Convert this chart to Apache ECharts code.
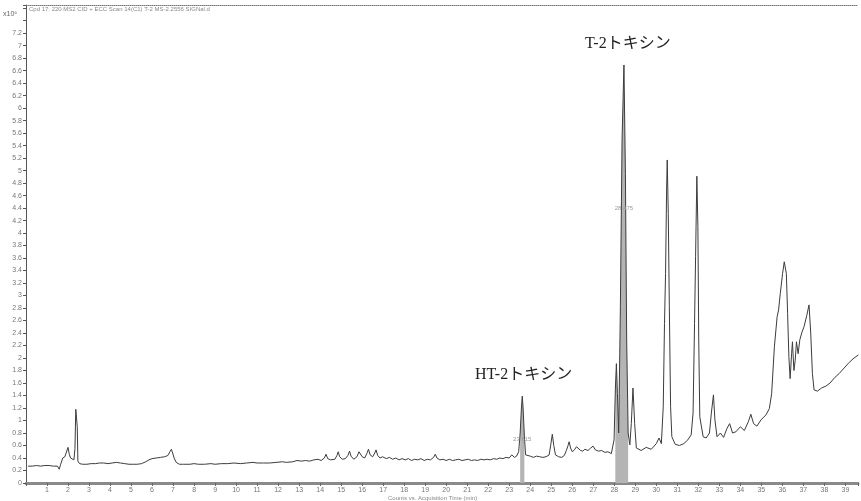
<!DOCTYPE html>
<html><head><meta charset="utf-8">
<script src="https://cdn.jsdelivr.net/npm/echarts@6/dist/echarts.min.js"></script>
<style>html,body{margin:0;padding:0;background:#fff}#c{width:861px;height:501px}</style>
</head><body><div id="c"></div>
<script>
// Acquisition time (min)
const times = [
 0.1,0.3,0.5,0.7,0.9,1.1,1.3,1.5,1.58,1.65,1.75,1.85,1.92,2.0,2.06,2.12,2.2,2.28,2.33,2.37,2.41,2.44,2.47,2.55,2.7,2.9,
 3.1,3.3,3.5,3.7,3.9,4.1,4.3,4.5,4.7,4.9,5.1,5.3,5.5,5.7,5.85,6.0,6.2,6.4,6.6,6.75,6.85,6.92,6.98,7.05,7.15,7.3,7.5,7.8,
 8.0,8.2,8.5,8.8,9.0,9.3,9.6,9.9,10.2,10.5,10.8,11.0,11.3,11.6,11.9,12.2,12.4,12.7,12.9,13.1,
 13.3,13.5,13.7,13.9,14.05,14.2,14.28,14.36,14.5,14.7,14.8,14.86,14.93,15.05,15.2,15.32,15.4,15.47,15.6,15.75,15.85,15.92,
 16.0,16.12,16.22,16.3,16.38,16.5,16.6,16.66,16.74,16.85,16.97,17.05,17.15,17.3,17.45,17.6,17.75,17.9,18.05,18.2,18.35,
 18.5,18.65,18.8,18.95,19.1,19.25,19.4,19.48,19.56,19.7,19.85,20.0,20.15,20.3,20.45,20.6,20.75,20.9,21.05,21.2,21.35,
 21.5,21.65,21.8,21.95,22.1,22.25,22.4,22.55,22.7,22.85,23.0,23.12,23.25,23.35,23.45,23.52,23.58,23.62,23.66,23.72,23.78,
 23.85,24.0,24.15,24.3,24.45,24.6,24.75,24.9,24.98,25.05,25.12,25.2,25.35,25.5,25.62,25.72,25.8,25.85,25.92,26.0,26.1,
 26.2,26.28,26.4,26.5,26.6,26.75,26.88,26.99,27.1,27.25,27.4,27.55,27.7,27.86,
 27.99,28.05,28.1,28.15,28.21,28.29,28.37,28.46,28.53,28.59,28.66,28.74,28.81,28.89,28.97,29.05,29.28,29.52,29.76,
 30.0,30.13,30.24,30.33,30.39,30.44,30.49,30.52,30.57,30.62,30.68,30.74,30.9,31.1,31.31,31.5,31.66,31.75,31.82,31.87,
 31.93,31.98,32.02,32.07,32.15,32.23,32.37,32.53,32.62,32.72,32.79,32.89,33.05,33.2,33.36,33.49,33.63,33.79,34.0,34.19,
 34.38,34.5,34.63,34.79,34.98,35.22,35.38,35.49,35.62,35.75,35.82,35.9,36.01,36.09,36.19,36.25,36.31,36.37,36.44,36.48,
 36.55,36.61,36.67,36.75,36.83,36.92,37.03,37.16,37.27,37.35,37.43,37.51,37.67,37.86,38.07,38.27,38.5,38.7,38.94,39.18,
 39.41,39.62
];
// Counts (x10^6)
const counts = [
 0.27,0.27,0.28,0.27,0.28,0.28,0.27,0.27,0.22,0.30,0.40,0.42,0.45,0.57,0.46,0.40,0.38,0.37,0.55,1.18,1.20,0.90,0.35,0.31,0.30,0.30,
 0.31,0.31,0.32,0.32,0.31,0.32,0.33,0.32,0.31,0.30,0.30,0.30,0.31,0.34,0.37,0.39,0.40,0.41,0.42,0.44,0.50,0.54,0.48,0.40,0.33,0.30,0.30,0.30,
 0.31,0.30,0.30,0.31,0.30,0.31,0.31,0.32,0.31,0.32,0.33,0.32,0.32,0.32,0.33,0.34,0.33,0.34,0.36,0.35,
 0.36,0.35,0.37,0.38,0.36,0.40,0.46,0.39,0.37,0.38,0.44,0.50,0.42,0.38,0.39,0.44,0.51,0.43,0.38,0.42,0.50,0.47,
 0.42,0.40,0.47,0.54,0.45,0.42,0.48,0.53,0.44,0.40,0.42,0.45,0.39,0.41,0.38,0.40,0.37,0.39,0.37,0.39,0.36,
 0.38,0.37,0.39,0.36,0.38,0.37,0.41,0.46,0.40,0.37,0.38,0.36,0.38,0.36,0.37,0.38,0.36,0.37,0.38,0.36,0.37,
 0.36,0.38,0.37,0.38,0.37,0.39,0.38,0.40,0.39,0.41,0.40,0.45,0.41,0.43,0.50,0.80,1.20,1.39,1.20,0.75,0.45,
 0.42,0.43,0.41,0.43,0.42,0.41,0.42,0.45,0.62,0.78,0.60,0.45,0.42,0.41,0.44,0.52,0.60,0.66,0.56,0.50,0.53,
 0.58,0.55,0.52,0.51,0.54,0.52,0.56,0.59,0.53,0.51,0.52,0.49,0.50,0.47,
 0.69,1.49,1.91,1.43,0.80,2.82,5.49,6.69,4.95,2.29,0.80,0.61,0.95,1.52,0.95,0.56,0.52,0.57,0.54,
 0.63,0.72,0.63,1.22,2.55,3.35,4.69,5.17,4.31,2.82,1.22,0.74,0.62,0.60,0.63,0.69,0.77,1.12,2.55,3.62,
 4.91,4.10,2.29,1.06,1.06,0.74,0.72,0.80,1.12,1.41,1.01,0.74,0.80,0.73,0.87,0.95,0.80,0.82,0.90,0.84,
 0.98,1.10,0.95,0.91,1.01,1.09,1.19,1.43,2.18,2.66,2.77,3.03,3.35,3.54,3.35,2.71,2.02,1.67,2.07,2.26,
 1.80,1.96,2.26,2.07,2.29,2.40,2.50,2.68,2.85,2.40,1.75,1.49,1.47,1.52,1.55,1.60,1.69,1.75,1.84,1.93,
 2.00,2.05
];
// Integrated peaks (time windows) and annotations
const peakNames = ['HT-2トキシン', 'T-2トキシン'];
const peakWindows = [[23.5, 23.75], [28.05, 28.7]];
const peakRT = ['23.615', '28.475'];
const peakRTValue = [0.7, 4.4];
const peakApex = [23.62, 28.46];

const series_data = times.map((t, i) => [t, counts[i]]);
const fills = peakWindows.map(w => series_data.filter(p => p[0] >= w[0] && p[0] <= w[1]));

const chart = echarts.init(document.getElementById('c'), null, {renderer: 'canvas'});
const fmtY = v => (v > 7.21 ? '' : String(+v.toFixed(1)));
const fmtX = v => (v === 0 || Math.abs(v - Math.round(v)) > 1e-6 ? '' : String(Math.round(v)));

chart.setOption({
  animation: false,
  grid: {left: 26, right: 0, top: 5, bottom: 18, containLabel: false},
  xAxis: [{
    type: 'value', min: 0, max: 39.6, interval: 1, position: 'bottom',
    axisLine: {lineStyle: {color: '#8a8a8a', width: 3}},
    axisTick: {show: true, length: 3, lineStyle: {color: '#666'}},
    axisLabel: {formatter: fmtX, fontSize: 7, color: '#777', margin: 4, fontFamily: 'Liberation Sans'},
    splitLine: {show: false}
  }, {
    type: 'value', min: 0, max: 39.6, position: 'top',
    axisLine: {show: true, lineStyle: {color: '#777', type: 'dotted', width: 1}},
    axisTick: {show: false}, axisLabel: {show: false}, splitLine: {show: false}
  }],
  yAxis: {
    type: 'value', min: 0, max: 7.65, interval: 0.2,
    axisLine: {show: true, lineStyle: {color: '#555', width: 1}},
    axisTick: {show: true, length: 3, lineStyle: {color: '#555'}},
    axisLabel: {formatter: fmtY, fontSize: 7, color: '#777', margin: 4, fontFamily: 'Liberation Sans'},
    splitLine: {show: false}
  },
  series: [
    ...fills.map((f, k) => ({
      type: 'line', data: f, symbol: 'none', xAxisIndex: 0,
      lineStyle: {width: 0}, areaStyle: {color: '#b4b4b4', opacity: 1}, z: 1,
      markPoint: {
        symbol: 'circle', symbolSize: 0,
        itemStyle: {color: 'rgba(0,0,0,0)'},
        data: [{coord: [peakApex[k], peakRTValue[k]], value: peakRT[k]}],
        label: {show: true, position: 'inside', formatter: p => p.value, fontSize: 6, color: '#999', fontFamily: 'Liberation Sans'}
      }
    })),
    {
      type: 'line', data: series_data, symbol: 'none', xAxisIndex: 0,
      lineStyle: {color: '#3c3c3c', width: 1}, z: 2
    }
  ],
  graphic: [
    {type: 'text', left: 3, top: 11, style: {text: 'x10⁶', fontSize: 7, fill: '#666', fontFamily: 'Liberation Sans'}},
    {type: 'text', left: 29, top: 6, style: {text: 'Cpd 17: 220 MS2 CID + ECC Scan 14(C1) T-2 MS-2.2556 SIGNal.d', fontSize: 6, fill: '#888', fontFamily: 'Liberation Sans'}},
    {type: 'text', left: 388, top: 495, style: {text: 'Counts vs. Acquisition Time (min)', fontSize: 6, fill: '#888', fontFamily: 'Liberation Sans'}},
    {type: 'text', left: 585, top: 36, style: {text: peakNames[1], fontSize: 16, fill: '#222', fontFamily: '"Liberation Serif", "Noto Sans CJK JP"'}},
    {type: 'text', left: 475, top: 367, style: {text: peakNames[0], fontSize: 16, fill: '#222', fontFamily: '"Liberation Serif", "Noto Sans CJK JP"'}}
  ]
});
</script></body></html>
